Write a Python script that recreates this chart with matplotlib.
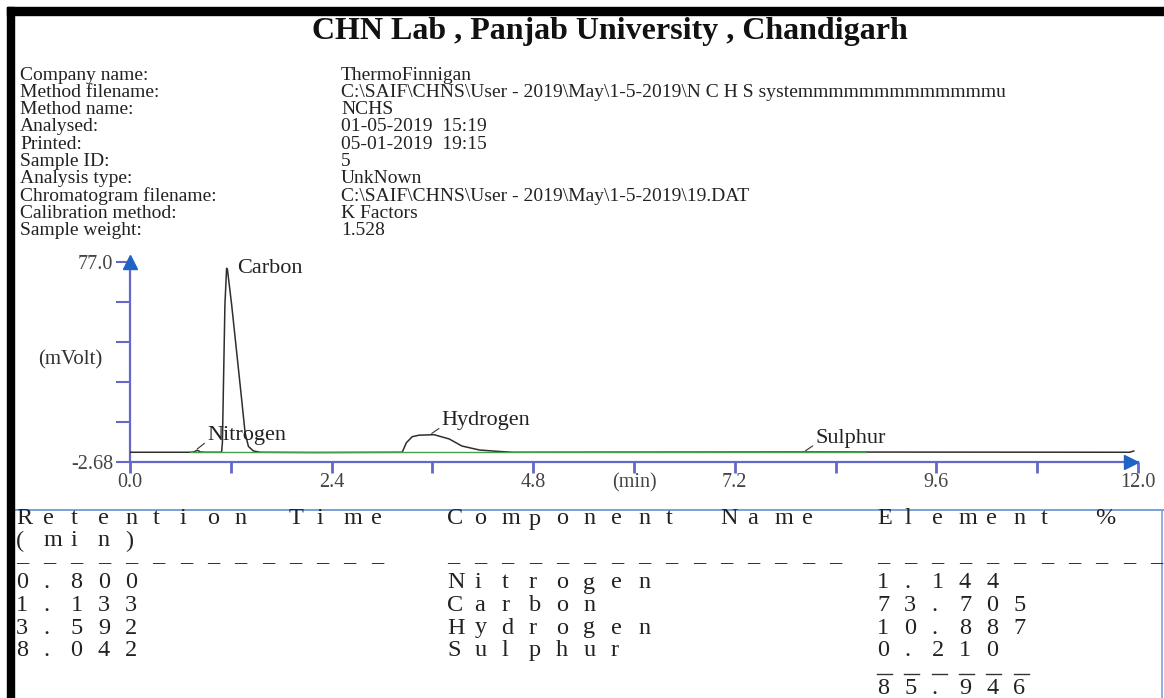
import numpy as np
import matplotlib
matplotlib.use("Agg")
import matplotlib.pyplot as plt
from matplotlib.patches import Rectangle
from matplotlib.lines import Line2D

W, H = 1164, 698
SERIF = ["Liberation Serif", "DejaVu Serif"]

# ---------------- data ----------------
title = "CHN Lab , Panjab University , Chandigarh"
info_labels = ["Company name:", "Method filename:", "Method name:", "Analysed:",
               "Printed:", "Sample ID:", "Analysis type:", "Chromatogram filename:",
               "Calibration method:", "Sample weight:"]
info_values = ["ThermoFinnigan",
               r"C:\SAIF\CHNS\User - 2019\May\1-5-2019\N C H S systemmmmmmmmmmmmmu",
               "NCHS", "01-05-2019  15:19", "05-01-2019  19:15", "5", "UnkNown",
               r"C:\SAIF\CHNS\User - 2019\May\1-5-2019\19.DAT", "K Factors", "1.528"]

# chromatogram trace (min, mVolt)
trace_time = [0.00, 0.70, 0.76, 0.80, 0.84, 0.90, 1.09, 1.10, 1.13, 1.15, 1.16,
              1.21, 1.27, 1.33, 1.37, 1.41, 1.47, 1.55, 2.20, 3.24, 3.29, 3.36,
              3.44, 3.62, 3.80, 3.95, 4.16, 4.36, 4.55, 8.04, 11.90, 11.95]
trace_mv = [1.2, 1.2, 1.3, 2.0, 1.3, 1.2, 1.2, 5.0, 60.0, 74.5, 74.0,
            60.0, 41.0, 22.0, 9.0, 3.5, 1.7, 1.2, 1.1, 1.2, 5.0, 7.4,
            8.0, 8.2, 6.5, 3.7, 2.1, 1.6, 1.2, 1.3, 1.2, 1.7]
baseline_time = [0.72, 8.75]
baseline_mv = [1.2, 1.2]

y_min, y_max = -2.68, 77.0
x_max, x_step = 12.0, 1.2
x_tick_labels = ["0.0", "", "2.4", "", "4.8", "(min)", "7.2", "", "9.6", "", "12.0"]

peak_names = ["Nitrogen", "Carbon", "Hydrogen", "Sulphur"]
peak_rt = [0.800, 1.133, 3.592, 8.042]
peak_label_mv = [2.0, 74.5, 8.2, 1.3]
element_pct = [1.144, 73.705, 10.887, 0.210]

table_head1 = ["Retention Time", "Component Name", "Element %"]
table_head2 = ["(min)", "", ""]

# ---------------- helpers ----------------
def fx(px):
    return px / W

def fy(py):
    return 1 - py / H

fig = plt.figure(figsize=(W / 100, H / 100), dpi=100)
fig.patch.set_facecolor("white")

# frame pieces of the scanned page
fig.patches.append(Rectangle((fx(7), 0), fx(14) - fx(7), fy(7), transform=fig.transFigure,
                             color="black", zorder=5))
fig.patches.append(Rectangle((fx(7), fy(15)), 1 - fx(7), fy(7) - fy(15), transform=fig.transFigure,
                             color="black", zorder=5))
fig.lines.append(Line2D([fx(14), 1], [fy(510), fy(510)], transform=fig.transFigure,
                        color="#7aa2d8", lw=1.4))
fig.lines.append(Line2D([fx(1162), fx(1162)], [fy(510), 0], transform=fig.transFigure,
                        color="#7aa2d8", lw=1.2))

# title and info block
fig.text(fx(610), fy(32), title, ha="center", va="center", fontsize=23,
         fontweight="bold", family=SERIF, color="#111111")
for i, (lab, val) in enumerate(zip(info_labels, info_values)):
    y = 75 + i * 17.3
    fig.text(fx(20), fy(y), lab, ha="left", va="center", fontsize=14, family=SERIF, color="#222222")
    fig.text(fx(341), fy(y), val, ha="left", va="center", fontsize=14, family=SERIF, color="#222222")

# ---------------- chromatogram ----------------
axis_col = "#6468c8"
ax = fig.add_axes([fx(130), fy(462), (1138 - 130) / W, (462 - 262) / H])
ax.set_facecolor("none")
ax.plot(trace_time, trace_mv, color="#2e2e2e", lw=1.1, solid_joinstyle="round", zorder=3)
ax.plot(baseline_time, baseline_mv, color="#4a9e4a", lw=1.0, zorder=4)
ax.set_xlim(0, x_max)
ax.set_ylim(y_min, y_max)
for s in ["top", "right"]:
    ax.spines[s].set_visible(False)
for s in ["left", "bottom"]:
    ax.spines[s].set_color(axis_col)
    ax.spines[s].set_linewidth(1.6)
xt = np.arange(0, x_max + 1e-6, x_step)
ax.set_xticks(xt)
ax.set_xticklabels(x_tick_labels)
yt = np.linspace(y_min, y_max, 6)
ax.set_yticks(yt)
ax.set_yticklabels(["-2.68", "", "", "", "", "77.0"])
ax.tick_params(axis="x", direction="out", length=8, width=2, color=axis_col, pad=0,
               labelsize=14.5, labelcolor="#444444")
ax.tick_params(axis="y", direction="out", length=10, width=1.5, color=axis_col, pad=2,
               labelsize=14.5, labelcolor="#444444")
for t in ax.get_xticklabels() + ax.get_yticklabels():
    t.set_family(SERIF)
ax.plot([0], [y_max], marker="^", ms=10, color="#1f63c6", clip_on=False, zorder=6)
ax.plot([x_max - 0.08], [y_min], marker=">", ms=10, color="#1f63c6", clip_on=False, zorder=6)

label_offsets = [(10, 4), (10, 0), (10, 3), (10, 3)]
for name, rt, mv, off in zip(peak_names, peak_rt, peak_label_mv, label_offsets):
    if name == "Carbon":
        ax.annotate(name, xy=(rt + 0.02, mv), xytext=off, textcoords="offset pixels",
                    ha="left", va="center", fontsize=16, family=SERIF, color="#222222")
    else:
        ax.annotate(name, xy=(rt, mv + 0.5), xytext=off, textcoords="offset pixels",
                    ha="left", va="bottom", fontsize=16, family=SERIF, color="#222222",
                    arrowprops=dict(arrowstyle="-", lw=0.8, color="#333333",
                                    relpos=(0, 0.2), shrinkA=0, shrinkB=0))
fig.text(fx(38), fy(360), "(mVolt)", ha="left", va="center", fontsize=15, family=SERIF,
         color="#333333")

# ---------------- results table (fixed-pitch print) ----------------
col_x = [16, 447, 877]
pitch = 27.3
tkw = dict(fontsize=17.5, family=SERIF, color="#222222", va="center", ha="left")

def cells(text, x0, y, **extra):
    kw = dict(tkw)
    kw.update(extra)
    for i, ch in enumerate(text):
        if ch != " ":
            fig.text(fx(x0 + i * pitch), fy(y), ch, **kw)

for cx, h1, h2 in zip(col_x, table_head1, table_head2):
    cells(h1, cx, 519)
    cells(h2, cx, 541)
dash_counts = [14, 15, 11]
for cx, n in zip(col_x, dash_counts):
    cells("–" * n, cx, 564)
for r, (rt, name, pct) in enumerate(zip(peak_rt, peak_names, element_pct)):
    y = 583 + r * 22.5
    cells(f"{rt:.3f}", col_x[0], y)
    cells(name, col_x[1], y)
    cells(f"{pct:.3f}", col_x[2], y)
total = sum(element_pct)
total_str = f"{total:.3f}"
for i in range(len(total_str)):
    x0 = col_x[2] + i * pitch
    fig.lines.append(Line2D([fx(x0), fx(x0 + 15)], [fy(674), fy(674)],
                            transform=fig.transFigure, color="#333333", lw=1.0))
cells(total_str, col_x[2], 688)

fig.savefig("out.png", dpi=100, facecolor="white")
